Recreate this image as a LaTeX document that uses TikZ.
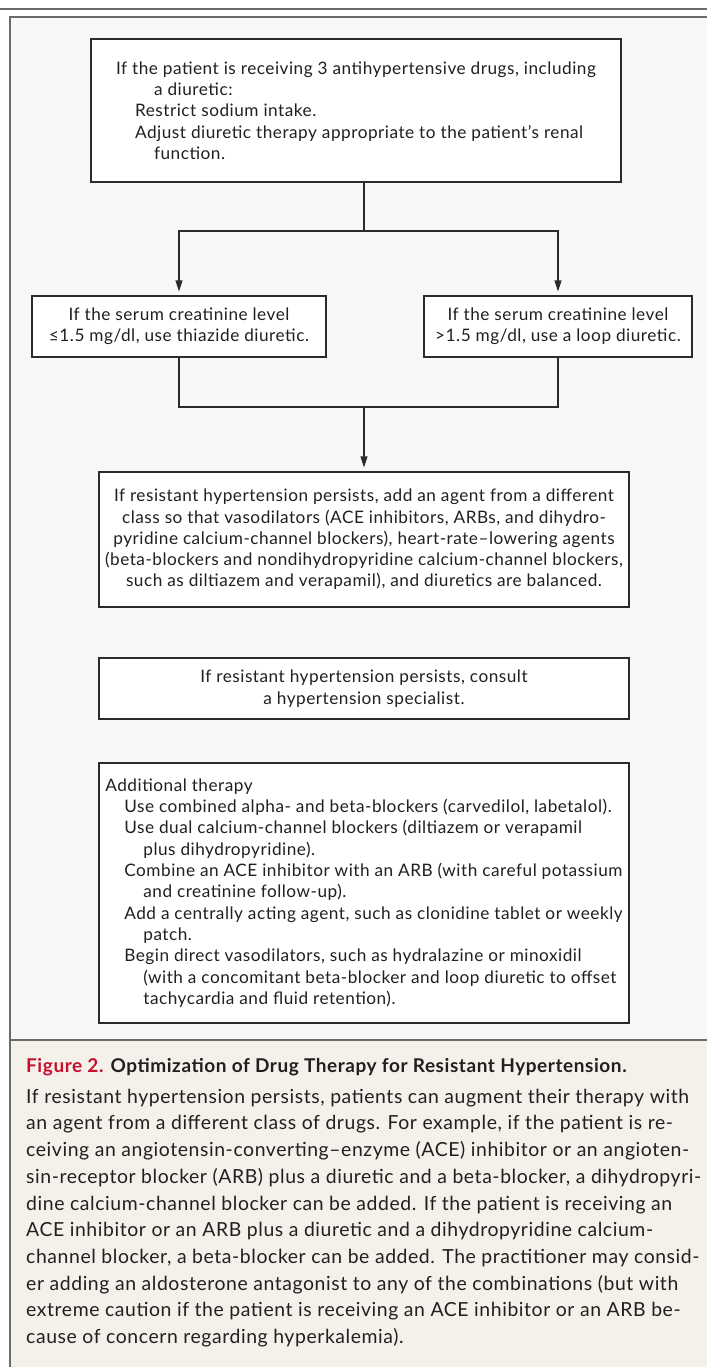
\documentclass[tikz,border=0pt]{standalone}
\usepackage{fontspec}
\setmainfont{Lato}[LetterSpace=3]
\usetikzlibrary{arrows.meta}
\definecolor{ink}{HTML}{231F20}
\definecolor{boxline}{HTML}{2B2B2B}
\definecolor{frameline}{HTML}{6B6B6B}
\definecolor{panelbg}{HTML}{F8F8F8}
\definecolor{capbg}{HTML}{F4F1EB}
\definecolor{figred}{HTML}{C8102E}
\newcommand{\boxfont}{\fontsize{17.2}{21.3}\selectfont}
\newcommand{\capfont}{\fontsize{19.4}{26.7}\selectfont}
\newcommand{\titlefont}{\fontsize{19}{26.7}\selectfont\bfseries}
\newcommand{\lvlone}{\hspace*{19pt}}
\newcommand{\lvltwo}{\hspace*{38pt}}
\tikzset{
  flowbox/.style={
    draw=boxline, line width=1.2pt, fill=white,
    inner sep=0pt, text=ink, font=\boxfont,
    minimum width=530pt,
    #1
  },
  link/.style={draw=boxline, line width=1.2pt},
  linkarrow/.style={link, -{Triangle[length=11pt,width=7pt]}, shorten >=4pt}
}
\begin{document}
\begin{tikzpicture}[x=1pt,y=1pt,yscale=-1]
\useasboundingbox (0,0) rectangle (707,1367);

%Shape: panel backgrounds
\fill[panelbg] (9.5,17) rectangle (707,1040);
\fill[capbg] (9.5,1040) rectangle (707,1367);
%Shape: rules of the frame
\draw[frameline, line width=2pt] (0,9) -- (707,9);
\draw[frameline, line width=2pt] (9.5,1367) -- (9.5,17) -- (707,17);
\draw[frameline, line width=2pt] (9.5,1040) -- (707,1040);

% Flow boxes
\node[flowbox={minimum height=143pt, align=left}] (diuretic) at (356,110.5) {If the patient is receiving 3 antihypertensive drugs, including\\
\lvltwo a diuretic:\\
\lvlone Restrict sodium intake.\\
\lvlone Adjust diuretic therapy appropriate to the patient’s renal\\
\lvltwo function.};
\node[flowbox={minimum width=294pt, minimum height=61pt, align=center}] (thiazide) at (179,326.5) {If the serum creatinine level\\ ≤1.5 mg/dl, use thiazide diuretic.};
\node[flowbox={minimum width=268pt, minimum height=61pt, align=center}] (loopdiur) at (558,326.5) {If the serum creatinine level\\ >1.5 mg/dl, use a loop diuretic.};
\node[flowbox={minimum height=135pt, align=center}] (addagent) at (364,539.5) {If resistant hypertension persists, add an agent from a different\\
class so that vasodilators (ACE inhibitors, ARBs, and dihydro-\\
pyridine calcium-channel blockers), heart-rate–lowering agents\\
(beta-blockers and nondihydropyridine calcium-channel blockers,\\
such as diltiazem and verapamil), and diuretics are balanced.};
\node[flowbox={minimum height=61pt, align=center}] (consult) at (364,688.5) {If resistant hypertension persists, consult\\ a hypertension specialist.};
\node[flowbox={minimum height=260pt, align=left}] (extra) at (364,893) {Additional therapy\\
\lvlone Use combined alpha- and beta-blockers (carvedilol, labetalol).\\
\lvlone Use dual calcium-channel blockers (diltiazem or verapamil\\
\lvltwo plus dihydropyridine).\\
\lvlone Combine an ACE inhibitor with an ARB (with careful potassium\\
\lvltwo and creatinine follow-up).\\
\lvlone Add a centrally acting agent, such as clonidine tablet or weekly\\
\lvltwo patch.\\
\lvlone Begin direct vasodilators, such as hydralazine or minoxidil\\
\lvltwo (with a concomitant beta-blocker and loop diuretic to offset\\
\lvltwo tachycardia and fluid retention).};

% Connectors
\coordinate (split) at (364,231);
\coordinate (merge) at (364,407);
\draw[link] (diuretic.south -| split) -- (split);
\draw[linkarrow] (split) -| (thiazide.north);
\draw[linkarrow] (split) -| (loopdiur.north);
\draw[link] (thiazide.south) |- (merge);
\draw[link] (loopdiur.south) |- (merge);
\draw[linkarrow] (merge) -- (addagent.north);

% Text Node: caption
\node[anchor=west, inner sep=0pt, text=ink, font=\titlefont] (figtitle) at (26,1067) {\textcolor{figred}{Figure 2.} Optimization of Drug Therapy for Resistant Hypertension.};
\node[anchor=west, inner sep=0pt, text=ink, font=\capfont, align=left] (figtext) at (26,1218) {If resistant hypertension persists, patients can augment their therapy with\\
an agent from a different class of drugs. For example, if the patient is re-\\
ceiving an angiotensin-converting–enzyme (ACE) inhibitor or an angioten-\\
sin-receptor blocker (ARB) plus a diuretic and a beta-blocker, a dihydropyri-\\
dine calcium-channel blocker can be added. If the patient is receiving an\\
ACE inhibitor or an ARB plus a diuretic and a dihydropyridine calcium-\\
channel blocker, a beta-blocker can be added. The practitioner may consid-\\
er adding an aldosterone antagonist to any of the combinations (but with\\
extreme caution if the patient is receiving an ACE inhibitor or an ARB be-\\
cause of concern regarding hyperkalemia).};

\end{tikzpicture}
\end{document}
